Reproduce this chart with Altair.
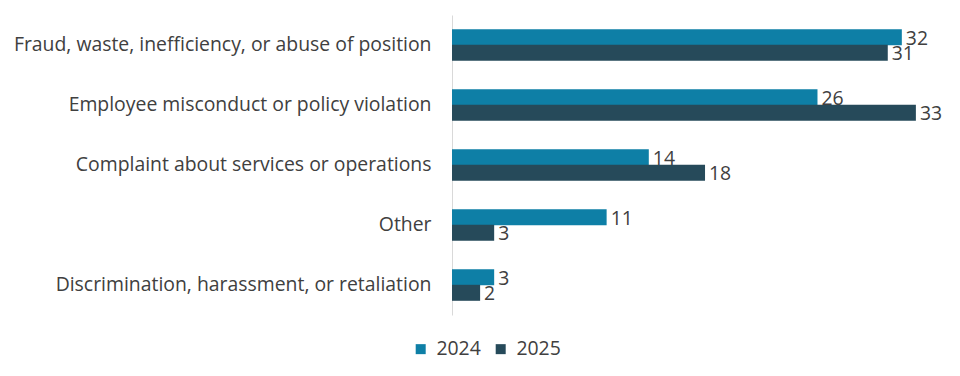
import altair as alt
import pandas as pd

categories = [
    "Fraud, waste, inefficiency, or abuse of position",
    "Employee misconduct or policy violation",
    "Complaint about services or operations",
    "Other",
    "Discrimination, harassment, or retaliation",
]
years = ["2024", "2025"]
values_2024 = [32, 26, 14, 11, 3]
values_2025 = [31, 33, 18, 3, 2]
colors = ["#0E7FA6", "#264A5A"]

rows = []
for c, a, b in zip(categories, values_2024, values_2025):
    rows.append({"category": c, "year": "2024", "value": a})
    rows.append({"category": c, "year": "2025", "value": b})
df = pd.DataFrame(rows)

font = "Open Sans"
fs = 19.4

y = alt.Y("category:N", sort=categories, title=None,
          scale=alt.Scale(paddingInner=0.48, paddingOuter=0.24),
          axis=alt.Axis(labelFontSize=fs, labelColor="#404040", labelFont=font,
                        labelLimit=700, labelPadding=21, ticks=False,
                        domainColor="#d9d9d9", domainWidth=1, grid=False))
x = alt.X("value:Q", title=None, scale=alt.Scale(domain=[0, 35]), axis=None)
yoff = alt.YOffset("year:N", sort=years)

base = alt.Chart(df).encode(y=y, yOffset=yoff)

bars = base.mark_bar(size=16).encode(
    x=x,
    color=alt.Color("year:N", sort=years,
                    scale=alt.Scale(domain=years, range=colors),
                    legend=alt.Legend(title=None, orient="none", direction="horizontal",
                                      legendX=-41, legendY=324, symbolType="square",
                                      symbolSize=100, symbolStrokeWidth=0,
                                      labelFontSize=fs, labelFont=font,
                                      labelColor="#404040", columnPadding=10,
                                      labelOffset=6)),
)

labels = base.mark_text(align="left", baseline="middle", dx=4, dy=1.5, fontSize=fs,
                        font=font, color="#404040").encode(
    x=x, text="value:Q")

chart = (bars + labels).properties(
    width=492, height=300, background="white",
    padding={"top": 7, "left": 5, "right": 5, "bottom": 5},
).configure_view(stroke="transparent", strokeWidth=0)

chart.save("out.html", embed_options={"renderer": "svg", "actions": False})
